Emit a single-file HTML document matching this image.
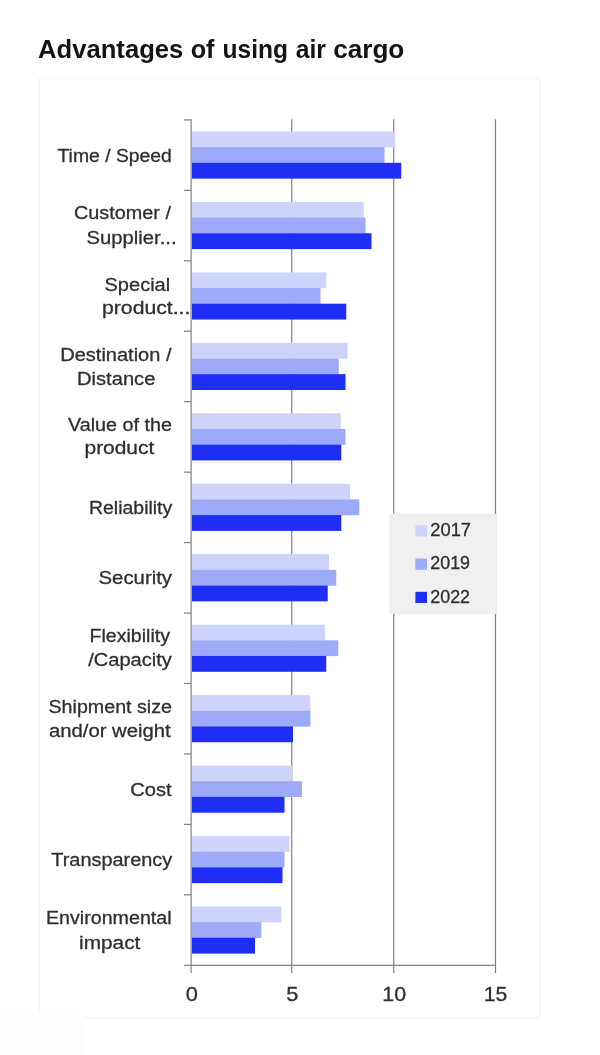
<!DOCTYPE html>
<html><head><meta charset="utf-8"><title>Advantages of using air cargo</title>
<style>
html,body{margin:0;padding:0;background:#fff;}
body{width:600px;height:1055px;position:relative;overflow:hidden;font-family:"Liberation Sans",sans-serif;}
.box{position:absolute;left:38px;top:77px;width:503px;height:942px;border:2px solid #f6f6f6;border-top:3px solid #f9f9f9;border-right-color:#f8f8f8;border-radius:3px;box-sizing:border-box;}
.corner{position:absolute;left:0;top:1014px;width:85px;height:41px;background:#fdfdfb;}
svg{position:absolute;left:0;top:0;will-change:transform;}
svg text{font-family:"Liberation Sans",sans-serif;fill:#2e2e2e;stroke:#2e2e2e;stroke-width:0.3px;}
svg text.t{fill:#141414;stroke:none;}
</style></head><body>
<div class="box"></div>
<div class="corner"></div>
<svg width="600" height="1055" viewBox="0 0 600 1055">

<line x1="291.75" y1="119.30000000000001" x2="291.75" y2="965.3" stroke="#808080" stroke-width="1.2"/>
<line x1="393.75" y1="119.30000000000001" x2="393.75" y2="965.3" stroke="#808080" stroke-width="1.2"/>
<line x1="495.5" y1="119.30000000000001" x2="495.5" y2="965.3" stroke="#808080" stroke-width="1.2"/>
<rect x="192.0" y="131.50" width="203.00" height="15.85" fill="#ced3fb"/>
<rect x="192.0" y="147.15" width="192.50" height="15.85" fill="#9da9f9"/>
<rect x="192.0" y="162.80" width="209.25" height="15.85" fill="#1f2ef5"/>
<rect x="192.0" y="201.95" width="171.75" height="15.85" fill="#ced3fb"/>
<rect x="192.0" y="217.60" width="173.50" height="15.85" fill="#9da9f9"/>
<rect x="192.0" y="233.25" width="179.50" height="15.85" fill="#1f2ef5"/>
<rect x="192.0" y="272.40" width="134.25" height="15.85" fill="#ced3fb"/>
<rect x="192.0" y="288.05" width="128.50" height="15.85" fill="#9da9f9"/>
<rect x="192.0" y="303.70" width="154.25" height="15.85" fill="#1f2ef5"/>
<rect x="192.0" y="342.85" width="155.50" height="15.85" fill="#ced3fb"/>
<rect x="192.0" y="358.50" width="146.75" height="15.85" fill="#9da9f9"/>
<rect x="192.0" y="374.15" width="153.50" height="15.85" fill="#1f2ef5"/>
<rect x="192.0" y="413.30" width="148.75" height="15.85" fill="#ced3fb"/>
<rect x="192.0" y="428.95" width="153.50" height="15.85" fill="#9da9f9"/>
<rect x="192.0" y="444.60" width="149.25" height="15.85" fill="#1f2ef5"/>
<rect x="192.0" y="483.75" width="158.00" height="15.85" fill="#ced3fb"/>
<rect x="192.0" y="499.40" width="167.25" height="15.85" fill="#9da9f9"/>
<rect x="192.0" y="515.05" width="149.25" height="15.85" fill="#1f2ef5"/>
<rect x="192.0" y="554.20" width="137.00" height="15.85" fill="#ced3fb"/>
<rect x="192.0" y="569.85" width="144.25" height="15.85" fill="#9da9f9"/>
<rect x="192.0" y="585.50" width="135.75" height="15.85" fill="#1f2ef5"/>
<rect x="192.0" y="624.65" width="133.00" height="15.85" fill="#ced3fb"/>
<rect x="192.0" y="640.30" width="146.25" height="15.85" fill="#9da9f9"/>
<rect x="192.0" y="655.95" width="134.25" height="15.85" fill="#1f2ef5"/>
<rect x="192.0" y="695.10" width="118.25" height="15.85" fill="#ced3fb"/>
<rect x="192.0" y="710.75" width="118.50" height="15.85" fill="#9da9f9"/>
<rect x="192.0" y="726.40" width="101.00" height="15.85" fill="#1f2ef5"/>
<rect x="192.0" y="765.55" width="100.00" height="15.85" fill="#ced3fb"/>
<rect x="192.0" y="781.20" width="110.00" height="15.85" fill="#9da9f9"/>
<rect x="192.0" y="796.85" width="92.50" height="15.85" fill="#1f2ef5"/>
<rect x="192.0" y="836.00" width="97.50" height="15.85" fill="#ced3fb"/>
<rect x="192.0" y="851.65" width="92.50" height="15.85" fill="#9da9f9"/>
<rect x="192.0" y="867.30" width="90.50" height="15.85" fill="#1f2ef5"/>
<rect x="192.0" y="906.45" width="89.25" height="15.85" fill="#ced3fb"/>
<rect x="192.0" y="922.10" width="69.25" height="15.85" fill="#9da9f9"/>
<rect x="192.0" y="937.75" width="63.00" height="15.85" fill="#1f2ef5"/>
<line x1="191.1" y1="119.30000000000001" x2="191.1" y2="973.0" stroke="#808080" stroke-width="1.2"/>
<line x1="183.9" y1="965.3" x2="496.1" y2="965.3" stroke="#808080" stroke-width="1.2"/>
<line x1="183.9" y1="119.90" x2="191.1" y2="119.90" stroke="#808080" stroke-width="1.2"/>
<line x1="183.9" y1="190.35" x2="191.1" y2="190.35" stroke="#808080" stroke-width="1.2"/>
<line x1="183.9" y1="260.80" x2="191.1" y2="260.80" stroke="#808080" stroke-width="1.2"/>
<line x1="183.9" y1="331.25" x2="191.1" y2="331.25" stroke="#808080" stroke-width="1.2"/>
<line x1="183.9" y1="401.70" x2="191.1" y2="401.70" stroke="#808080" stroke-width="1.2"/>
<line x1="183.9" y1="472.15" x2="191.1" y2="472.15" stroke="#808080" stroke-width="1.2"/>
<line x1="183.9" y1="542.60" x2="191.1" y2="542.60" stroke="#808080" stroke-width="1.2"/>
<line x1="183.9" y1="613.05" x2="191.1" y2="613.05" stroke="#808080" stroke-width="1.2"/>
<line x1="183.9" y1="683.50" x2="191.1" y2="683.50" stroke="#808080" stroke-width="1.2"/>
<line x1="183.9" y1="753.95" x2="191.1" y2="753.95" stroke="#808080" stroke-width="1.2"/>
<line x1="183.9" y1="824.40" x2="191.1" y2="824.40" stroke="#808080" stroke-width="1.2"/>
<line x1="183.9" y1="894.85" x2="191.1" y2="894.85" stroke="#808080" stroke-width="1.2"/>
<line x1="291.75" y1="965.3" x2="291.75" y2="973.0" stroke="#808080" stroke-width="1.2"/>
<line x1="393.75" y1="965.3" x2="393.75" y2="973.0" stroke="#808080" stroke-width="1.2"/>
<line x1="495.5" y1="965.3" x2="495.5" y2="973.0" stroke="#808080" stroke-width="1.2"/>
<rect x="389.5" y="513.75" width="107.2" height="100.25" fill="#f0f0f0"/>
<rect x="415.4" y="525.20" width="11.6" height="11.2" fill="#ced3fb"/>
<rect x="415.4" y="558.50" width="11.6" height="11.2" fill="#9da9f9"/>
<rect x="415.4" y="591.80" width="11.6" height="11.2" fill="#1f2ef5"/>
<text id="t0" x="57.50" y="161.75" font-size="19.1" font-weight="normal" textLength="114.37" lengthAdjust="spacingAndGlyphs">Time / Speed</text>
<text id="t1" x="74.00" y="219.25" font-size="19.1" font-weight="normal" textLength="96.93" lengthAdjust="spacingAndGlyphs">Customer /</text>
<text id="t2" x="86.50" y="243.5" font-size="19.1" font-weight="normal" textLength="90.10" lengthAdjust="spacingAndGlyphs">Supplier...</text>
<text id="t3" x="104.50" y="290.5" font-size="19.1" font-weight="normal" textLength="65.70" lengthAdjust="spacingAndGlyphs">Special</text>
<text id="t4" x="102.00" y="314.25" font-size="19.1" font-weight="normal" textLength="88.40" lengthAdjust="spacingAndGlyphs">product...</text>
<text id="t5" x="60.25" y="360.5" font-size="19.1" font-weight="normal" textLength="111.19" lengthAdjust="spacingAndGlyphs">Destination /</text>
<text id="t6" x="77.00" y="384.75" font-size="19.1" font-weight="normal" textLength="78.37" lengthAdjust="spacingAndGlyphs">Distance</text>
<text id="t7" x="68.00" y="430.5" font-size="19.1" font-weight="normal" textLength="104.02" lengthAdjust="spacingAndGlyphs">Value of the</text>
<text id="t8" x="84.50" y="454.25" font-size="19.1" font-weight="normal" textLength="69.76" lengthAdjust="spacingAndGlyphs">product</text>
<text id="t9" x="89.00" y="513.5" font-size="19.1" font-weight="normal" textLength="83.24" lengthAdjust="spacingAndGlyphs">Reliability</text>
<text id="t10" x="98.50" y="584.25" font-size="19.1" font-weight="normal" textLength="73.55" lengthAdjust="spacingAndGlyphs">Security</text>
<text id="t11" x="89.50" y="641.75" font-size="19.1" font-weight="normal" textLength="80.57" lengthAdjust="spacingAndGlyphs">Flexibility</text>
<text id="t12" x="88.25" y="666.25" font-size="19.1" font-weight="normal" textLength="83.62" lengthAdjust="spacingAndGlyphs">/Capacity</text>
<text id="t13" x="48.50" y="712.5" font-size="19.1" font-weight="normal" textLength="123.50" lengthAdjust="spacingAndGlyphs">Shipment size</text>
<text id="t14" x="49.00" y="736.75" font-size="19.1" font-weight="normal" textLength="121.68" lengthAdjust="spacingAndGlyphs">and/or weight</text>
<text id="t15" x="130.25" y="795.5" font-size="19.1" font-weight="normal" textLength="41.34" lengthAdjust="spacingAndGlyphs">Cost</text>
<text id="t16" x="51.25" y="865.5" font-size="19.1" font-weight="normal" textLength="121.03" lengthAdjust="spacingAndGlyphs">Transparency</text>
<text id="t17" x="46.00" y="924.25" font-size="19.1" font-weight="normal" textLength="125.59" lengthAdjust="spacingAndGlyphs">Environmental</text>
<text id="t18" x="79.00" y="948.5" font-size="19.1" font-weight="normal" textLength="61.36" lengthAdjust="spacingAndGlyphs">impact</text>
<text id="t19" x="191.75" y="1001" font-size="21" text-anchor="middle" textLength="12.14" lengthAdjust="spacingAndGlyphs">0</text>
<text id="t20" x="292.25" y="1001" font-size="21" text-anchor="middle" textLength="12.14" lengthAdjust="spacingAndGlyphs">5</text>
<text id="t21" x="382.30" y="1001" font-size="21" font-weight="normal" textLength="23.79" lengthAdjust="spacingAndGlyphs">10</text>
<text id="t22" x="483.70" y="1001" font-size="21" font-weight="normal" textLength="23.58" lengthAdjust="spacingAndGlyphs">15</text>
<text id="t23" x="430.30" y="536" font-size="18.6" font-weight="normal" textLength="40.77" lengthAdjust="spacingAndGlyphs">2017</text>
<text id="t24" x="430.30" y="569.3" font-size="18.6" font-weight="normal" textLength="39.72" lengthAdjust="spacingAndGlyphs">2019</text>
<text id="t25" x="430.30" y="602.5" font-size="18.6" font-weight="normal" textLength="39.72" lengthAdjust="spacingAndGlyphs">2022</text>
<text id="t26" class="t" x="38.00" y="57.8" font-size="25" font-weight="bold" textLength="145.36" lengthAdjust="spacingAndGlyphs">Advantages</text>
<text id="t27" class="t" x="190.70" y="57.8" font-size="25" font-weight="bold" textLength="23.82" lengthAdjust="spacingAndGlyphs">of</text>
<text id="t28" class="t" x="222.50" y="57.8" font-size="25" font-weight="bold" textLength="65.44" lengthAdjust="spacingAndGlyphs">using</text>
<text id="t29" class="t" x="295.70" y="57.8" font-size="25" font-weight="bold" textLength="30.20" lengthAdjust="spacingAndGlyphs">air</text>
<text id="t30" class="t" x="333.20" y="57.8" font-size="25" font-weight="bold" textLength="71.15" lengthAdjust="spacingAndGlyphs">cargo</text>
</svg></body></html>
